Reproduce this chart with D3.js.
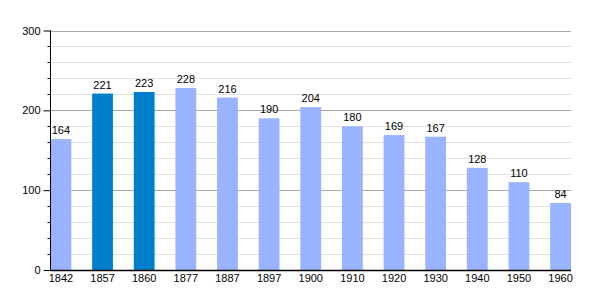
<!DOCTYPE html>
<html><head><meta charset="utf-8">
<script src="https://cdn.jsdelivr.net/npm/d3@7"></script>
<style>body{margin:0;background:#fff}text{font-family:"Liberation Sans",Arial,sans-serif}</style>
</head><body><svg id="c" width="600" height="300"></svg>
<script>
const years = ["1842","1857","1860","1877","1887","1897","1900","1910","1920","1930","1940","1950","1960"];
const population = [164,221,223,228,216,190,204,180,169,167,128,110,84];
const highlighted = ["1857","1860"];
const majorTicks = [0,100,200,300];
const minorTicks = [20,40,60,80,120,140,160,180,220,240,260,280];

const svg = d3.select("#c");
const x = d3.scaleBand().domain(years).range([50.5,571]).paddingInner(0.5).paddingOuter(0);
const y = d3.scaleLinear().domain([0,300]).range([270,30.5]);

// minor grid
svg.append("g").selectAll("line").data(minorTicks).join("line")
  .attr("x1",50).attr("x2",571).attr("y1",d=>Math.round(y(d))+0.5).attr("y2",d=>Math.round(y(d))+0.5)
  .attr("stroke","#e0e0e0").attr("stroke-width",1);
svg.append("g").selectAll("line").data(majorTicks.filter(d=>d>0)).join("line")
  .attr("x1",50).attr("x2",571).attr("y1",d=>Math.round(y(d))+0.5).attr("y2",d=>Math.round(y(d))+0.5)
  .attr("stroke","#aaaaaa").attr("stroke-width",1);

// bars
svg.append("g").selectAll("rect").data(years).join("rect")
  .attr("x",d=>x(d)).attr("width",x.bandwidth())
  .attr("y",(d,i)=>y(population[i])).attr("height",(d,i)=>y(0)-y(population[i]))
  .attr("fill",d=>highlighted.includes(d)?"#0080cc":"#99b3ff");

// value labels
svg.append("g").selectAll("text").data(years).join("text")
  .attr("x",d=>x(d)+x.bandwidth()/2).attr("y",(d,i)=>y(population[i])-5)
  .attr("text-anchor","middle").attr("font-size",11).attr("fill","#000")
  .text((d,i)=>population[i]);

// y axis
const ya = svg.append("g").attr("transform","translate(50.5,0)")
  .call(d3.axisLeft(y).tickValues(majorTicks).tickSize(7).tickPadding(3).tickFormat(d3.format("d")));
ya.select(".domain").remove();
ya.selectAll("text").attr("font-size",11).attr("font-family","Liberation Sans, Arial, sans-serif").attr("fill","#000");
ya.selectAll("line").attr("stroke","#000");
svg.append("g").selectAll("line").data(minorTicks).join("line")
  .attr("x1",47.5).attr("x2",50.5).attr("y1",d=>Math.round(y(d))+0.5).attr("y2",d=>Math.round(y(d))+0.5)
  .attr("stroke","#000");
svg.append("line").attr("x1",50.5).attr("x2",50.5).attr("y1",30.5).attr("y2",270.5).attr("stroke","#000");

// x axis
const xa = svg.append("g").attr("transform","translate(0,270.5)")
  .call(d3.axisBottom(x).tickSize(0).tickPadding(4));
xa.select(".domain").remove();
xa.selectAll("text").attr("font-size",11).attr("font-family","Liberation Sans, Arial, sans-serif").attr("fill","#000");
svg.append("line").attr("x1",50).attr("x2",571).attr("y1",270.5).attr("y2",270.5).attr("stroke","#000").attr("stroke-width",1.5);
</script></body></html>
